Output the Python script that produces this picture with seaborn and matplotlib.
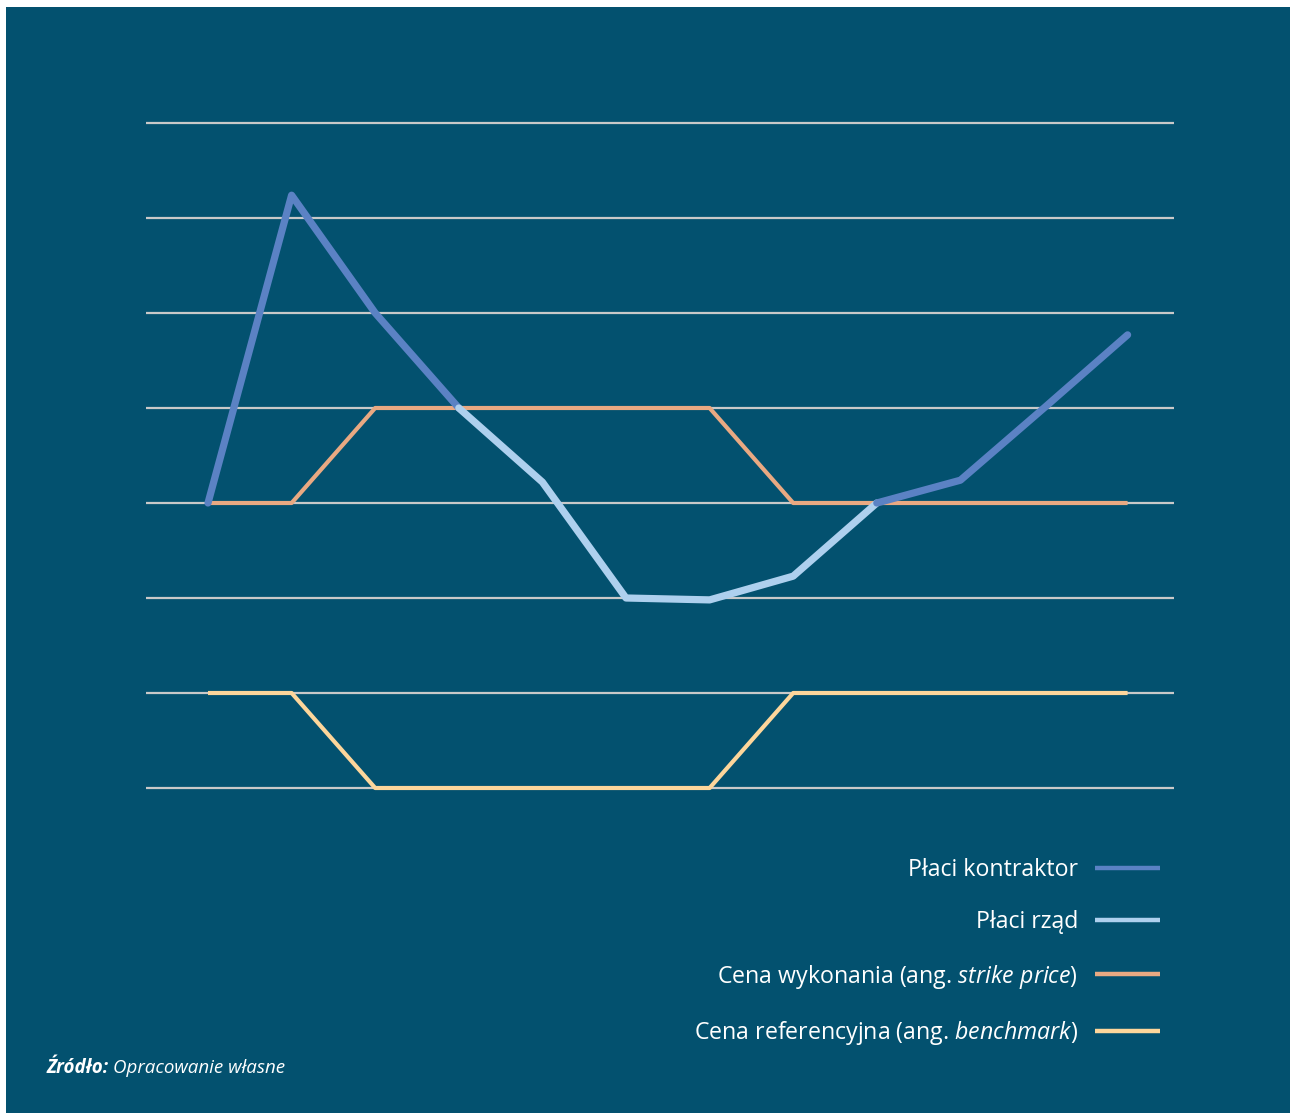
import numpy as np
import pandas as pd
import matplotlib
matplotlib.use("Agg")
import matplotlib.pyplot as plt
from matplotlib.lines import Line2D
import seaborn as sns

# ---- data ----
periods = list(range(12))
price = [3.0, 6.24, 5.0, 4.0, 3.22, 2.0, 1.98, 2.23, 3.0, 3.24, 4.0, 4.77]
strike = [3, 3, 4, 4, 4, 4, 4, 3, 3, 3, 3, 3]
benchmark = [1, 1, 0, 0, 0, 0, 0, 1, 1, 1, 1, 1]
labels = ["Płaci kontraktor", "Płaci rząd",
          "Cena wykonania (ang. $\\it{strike\\ price}$)",
          "Cena referencyjna (ang. $\\it{benchmark}$)"]

BG = "#03516f"
C_K = "#5b82c4"
C_R = "#aed0ee"
C_S = "#e9a982"
C_B = "#fdd69b"
GRID = "#c9c9c9"
FONT = "Open Sans"

sns.set_theme(style="white")
plt.rcParams["font.family"] = [FONT, "DejaVu Sans"]
plt.rcParams["mathtext.fontset"] = "custom"
plt.rcParams["mathtext.rm"] = FONT
plt.rcParams["mathtext.it"] = FONT + ":italic"

W, H = 1290, 1113
fig = plt.figure(figsize=(W / 100, H / 100), dpi=100)
fig.patch.set_facecolor("white")
# background panel (white strip on top/left)
fig.add_artist(plt.Rectangle((6 / W, 0), 1, 1 - 7 / H, transform=fig.transFigure,
                             facecolor=BG, edgecolor="none", zorder=-10))

pad = 5
ax_left, ax_right = 146, 1174
ax_top, ax_bot = 123 - pad, 788 + pad
ax = fig.add_axes([ax_left / W, (H - ax_bot) / H, (ax_right - ax_left) / W, (ax_bot - ax_top) / H])
ax.set_facecolor("none")
x0px, dx = 208, 83.6
ax.set_xlim((ax_left - x0px) / dx, (ax_right - x0px) / dx)
ax.set_ylim(-pad / 95, 7 + pad / 95)
for s in ax.spines.values():
    s.set_visible(False)
ax.set_xticks([])
ax.set_yticks(range(8))
ax.set_yticklabels([])
ax.tick_params(length=0)
ax.grid(axis="y", color=GRID, linewidth=1.6)
ax.set_axisbelow(True)

df = pd.DataFrame({"t": periods, "price": price, "strike": strike, "bench": benchmark})

sns.lineplot(data=df, x="t", y="bench", ax=ax, color=C_B, linewidth=3.0,
             solid_capstyle="butt", zorder=3)
sns.lineplot(data=df, x="t", y="strike", ax=ax, color=C_S, linewidth=3.0,
             solid_capstyle="butt", zorder=3)

# split price line into runs by who pays
seg_gov = [(price[i] <= strike[i]) and (price[i + 1] <= strike[i + 1]) for i in range(len(price) - 1)]
runs = []
start = 0
for i in range(1, len(seg_gov) + 1):
    if i == len(seg_gov) or seg_gov[i] != seg_gov[start]:
        runs.append((start, i, seg_gov[start]))
        start = i
for a, b, gov in runs:
    sub = df.iloc[a:b + 1]
    sns.lineplot(data=sub, x="t", y="price", ax=ax, color=C_R if gov else C_K,
                 linewidth=5.2, solid_capstyle="round", solid_joinstyle="round", zorder=4)
ax.set_xlabel("")
ax.set_ylabel("")

handles = [Line2D([], [], color=C_K, linewidth=3.2, solid_capstyle="butt"),
           Line2D([], [], color=C_R, linewidth=3.2, solid_capstyle="butt"),
           Line2D([], [], color=C_S, linewidth=3.2, solid_capstyle="butt"),
           Line2D([], [], color=C_B, linewidth=3.2, solid_capstyle="butt")]
leg = fig.legend(handles, labels, loc="upper right", bbox_to_anchor=(1160 / W, 1 - 858 / H),
                 frameon=False, markerfirst=False, fontsize=16.7, handlelength=2.8,
                 handletextpad=0.72, labelspacing=1.22, borderpad=0, borderaxespad=0)
for t in leg.get_texts():
    t.set_color("white")

# source note
fig.canvas.draw()
r = fig.canvas.get_renderer()
t1 = fig.text(47 / W, 1 - 1073 / H, "Źródło:", color="white", fontsize=13.5,
              fontweight="bold", fontstyle="italic", va="baseline")
bb = t1.get_window_extent(r)
fig.text((bb.x1 + 4) / W, 1 - 1073 / H, "Opracowanie własne", color="white", fontsize=13.5,
         fontstyle="italic", va="baseline")

fig.savefig("out.png", dpi=100, facecolor=fig.get_facecolor())
